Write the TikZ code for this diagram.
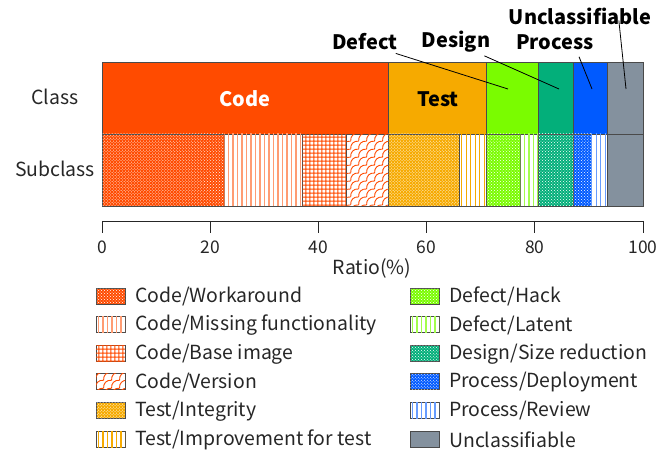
\documentclass[tikz,border=0pt]{standalone}
\usepackage{fontspec}
\setmainfont{Noto Sans CJK JP}
\usetikzlibrary{patterns,patterns.meta}
\definecolor{ccode}{HTML}{FF4B00}
\definecolor{ctest}{HTML}{F6AA00}
\definecolor{cdefect}{HTML}{7AFC00}
\definecolor{cdesign}{HTML}{03AF7A}
\definecolor{cprocess}{HTML}{005AFF}
\definecolor{cuncl}{HTML}{84919E}
\definecolor{cedge}{HTML}{4A4A4A}
\pgfdeclarepatternformonly{scalesX}{\pgfqpoint{-1pt}{-1pt}}{\pgfqpoint{9pt}{9pt}}{\pgfqpoint{8pt}{8pt}}{%
  \pgfsetlinewidth{0.9pt}%
  \pgfpathmoveto{\pgfqpoint{0pt}{0pt}}%
  \pgfpathcurveto{\pgfqpoint{-0.5pt}{5pt}}{\pgfqpoint{3pt}{8.5pt}}{\pgfqpoint{8pt}{8pt}}%
  \pgfusepath{stroke}}
\begin{document}
\begin{tikzpicture}[x=1bp,y=-1bp,
  every node/.style={font=\fontsize{19.5}{22}\selectfont, text=black!85},
  clsbox/.style={fill=#1, draw=cedge, line width=0.8pt},
  dotbox/.style={fill=#1, draw=cedge, line width=0.8pt,
     postaction={pattern=crosshatch dots, pattern color=white}},
  vlinebox/.style={fill=white, draw=cedge, line width=0.8pt,
     postaction={pattern={Lines[angle=90,distance=4.5pt,line width=1.3pt]}, pattern color=#1}},
  gridbox/.style={fill=white, draw=cedge, line width=0.8pt,
     postaction={pattern={Hatch[angle=0,distance=4pt,line width=1pt]}, pattern color=#1}},
  scalebox/.style={fill=white, draw=cedge, line width=0.8pt,
     postaction={pattern=scalesX, pattern color=#1}},
  callout/.style={font=\fontsize{20}{22}\selectfont\bfseries, text=black, inner sep=1pt},
  leader/.style={draw=black, line width=0.8pt},
  legtext/.style={anchor=west, inner sep=0pt},
  ticklbl/.style={font=\fontsize{17.5}{20}\selectfont},
  tick/.style={draw=black!85, line width=1pt}
]
\useasboundingbox (0,0) rectangle (671,452);
\def\px#1{102+5.41*#1}
% ---------- class bar ----------
\path[clsbox=ccode]    ({\px{0}},62)    rectangle ({\px{53}},134);
\path[clsbox=ctest]    ({\px{53}},62)   rectangle ({\px{71}},134);
\path[clsbox=cdefect]  ({\px{71}},62)   rectangle ({\px{80.6}},134);
\path[clsbox=cdesign]  ({\px{80.6}},62) rectangle ({\px{87.1}},134);
\path[clsbox=cprocess] ({\px{87.1}},62) rectangle ({\px{93.4}},134);
\path[clsbox=cuncl]    ({\px{93.4}},62) rectangle ({\px{100}},134);
\node[font=\fontsize{20}{22}\selectfont\bfseries, text=white] (codel) at (245,99) {Code};
\node[font=\fontsize{20}{22}\selectfont\bfseries, text=black] (testl) at (438,99) {Test};
% ---------- subclass bar ----------
\path[dotbox=ccode]      ({\px{0}},134)    rectangle ({\px{22.6}},206);
\path[vlinebox=ccode!55] ({\px{22.6}},134) rectangle ({\px{37.1}},206);
\path[gridbox=ccode]     ({\px{37.1}},134) rectangle ({\px{45.2}},206);
\path[scalebox=ccode]    ({\px{45.2}},134) rectangle ({\px{53}},206);
\path[dotbox=ctest]      ({\px{53}},134)   rectangle ({\px{66}},206);
\path[vlinebox=ctest]    ({\px{66}},134)   rectangle ({\px{71}},206);
\path[dotbox=cdefect]    ({\px{71}},134)   rectangle ({\px{77.4}},206);
\path[vlinebox=cdefect!70] ({\px{77.4}},134) rectangle ({\px{80.6}},206);
\path[dotbox=cdesign]    ({\px{80.6}},134) rectangle ({\px{87.1}},206);
\path[dotbox=cprocess]   ({\px{87.1}},134) rectangle ({\px{90.4}},206);
\path[vlinebox=cprocess!60] ({\px{90.4}},134) rectangle ({\px{93.4}},206);
\path[clsbox=cuncl]      ({\px{93.4}},134) rectangle ({\px{100}},206);
% ---------- row labels ----------
\node (rowc) at (55,97) {Class};
\node (rows) at (55,169) {Subclass};
% ---------- callouts ----------
\node[callout] (defl) at (365,42) {Defect};
\node[callout] (desl) at (456,42) {Design};
\node[callout] (prol) at (555,42) {Process};
\node[callout] (uncl) at (580,16) {Unclassifiable};
\coordinate (defp) at (508,89);
\coordinate (desp) at (559,89);
\coordinate (prop) at (592,89);
\coordinate (uncp) at (626,89);
\draw[leader] ([shift={(-3,2)}]defl.south east) -- (defp);
\draw[leader] ([shift={(-7,2)}]desl.south east) -- (desp);
\draw[leader] ([shift={(-16,6)}]prol.south east) -- (prop);
\draw[leader] ([xshift=39,yshift=5]uncl.south) -- (uncp);
% ---------- axis ----------
\coordinate (ax0) at ({\px{0}},221);
\coordinate (ax1) at ({\px{100}},221);
\draw[tick] (ax0) -- (ax1);
\foreach \v in {0,20,40,60,80,100}{
  \coordinate (t\v) at ({\px{\v}},221);
  \draw[tick] (t\v) -- ++(0,12);
  \node[ticklbl] (tl\v) at ({\px{\v}},247) {\v};
}
\node (axl) at (372,268) {Ratio(\%)};
% ---------- legend ----------
\def\sw{29}\def\sh{16}
\def\ry#1{288+28.6*#1}
\path[dotbox=ccode]      (96,{\ry{0}}) rectangle ++(\sw,\sh);
\path[vlinebox=ccode!55] (96,{\ry{1}}) rectangle ++(\sw,\sh);
\path[gridbox=ccode]     (96,{\ry{2}}) rectangle ++(\sw,\sh);
\path[scalebox=ccode]    (96,{\ry{3}}) rectangle ++(\sw,\sh);
\path[dotbox=ctest]      (96,{\ry{4}}) rectangle ++(\sw,\sh);
\path[vlinebox=ctest]    (96,{\ry{5}}) rectangle ++(\sw,\sh);
\node[legtext] (ll0) at (135,{\ry{0}+8.5}) {Code/Workaround};
\node[legtext] (ll1) at (135,{\ry{1}+8.5}) {Code/Missing functionality};
\node[legtext] (ll2) at (135,{\ry{2}+8.5}) {Code/Base image};
\node[legtext] (ll3) at (135,{\ry{3}+8.5}) {Code/Version};
\node[legtext] (ll4) at (135,{\ry{4}+8.5}) {Test/Integrity};
\node[legtext] (ll5) at (135,{\ry{5}+8.5}) {Test/Improvement for test};
\path[dotbox=cdefect]       (410,{\ry{0}}) rectangle ++(\sw,\sh);
\path[vlinebox=cdefect!70]  (410,{\ry{1}}) rectangle ++(\sw,\sh);
\path[dotbox=cdesign]       (410,{\ry{2}}) rectangle ++(\sw,\sh);
\path[dotbox=cprocess]      (410,{\ry{3}}) rectangle ++(\sw,\sh);
\path[vlinebox=cprocess!60] (410,{\ry{4}}) rectangle ++(\sw,\sh);
\path[clsbox=cuncl]         (410,{\ry{5}}) rectangle ++(\sw,\sh);
\node[legtext] (lr0) at (449,{\ry{0}+8.5}) {Defect/Hack};
\node[legtext] (lr1) at (449,{\ry{1}+8.5}) {Defect/Latent};
\node[legtext] (lr2) at (449,{\ry{2}+8.5}) {Design/Size reduction};
\node[legtext] (lr3) at (449,{\ry{3}+8.5}) {Process/Deployment};
\node[legtext] (lr4) at (449,{\ry{4}+8.5}) {Process/Review};
\node[legtext] (lr5) at (449,{\ry{5}+8.5}) {Unclassifiable};
\end{tikzpicture}
\end{document}
